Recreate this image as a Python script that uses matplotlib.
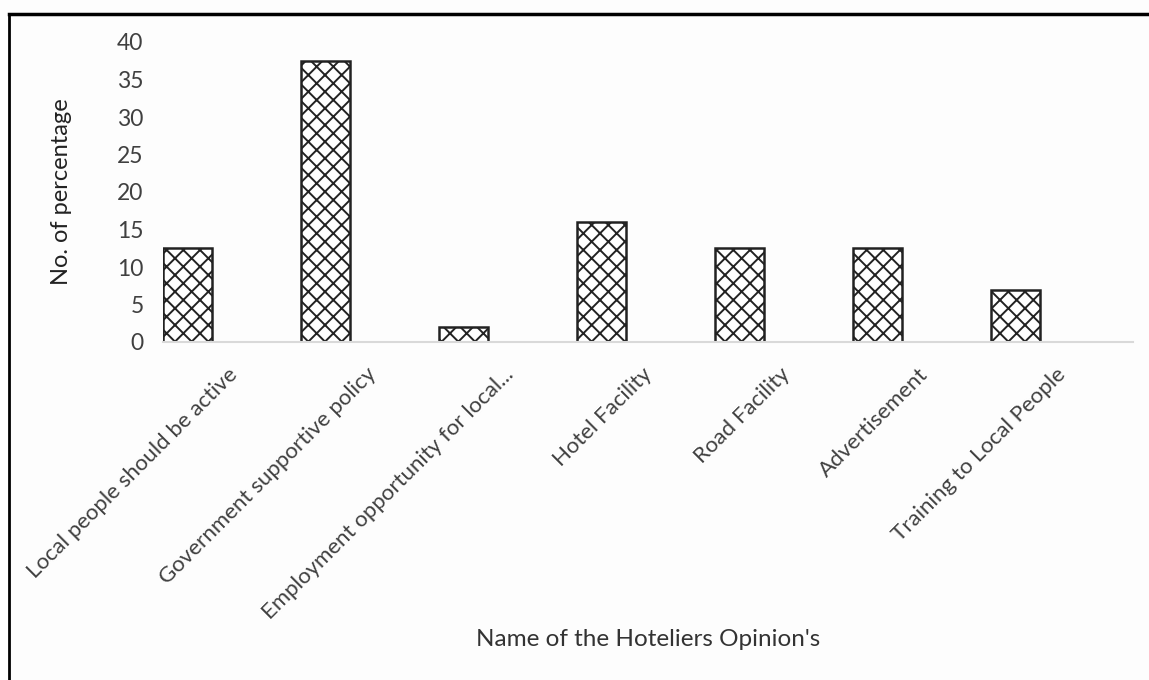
import matplotlib
matplotlib.use("Agg")
import matplotlib.pyplot as plt
from matplotlib.lines import Line2D
from matplotlib.transforms import ScaledTranslation

categories = [
    "Local people should be active",
    "Government supportive policy",
    "Employment opportunity for local...",
    "Hotel Facility",
    "Road Facility",
    "Advertisement",
    "Training to Local People",
]
values = [12.5, 37.5, 2, 16, 12.5, 12.5, 7]
y_ticks = [0, 5, 10, 15, 20, 25, 30, 35, 40]

W, H = 1149, 680
plt.rcParams["font.family"] = ["Lato", "DejaVu Sans"]
plt.rcParams["hatch.linewidth"] = 1.4
plt.rcParams["hatch.color"] = "#222222"

fig = plt.figure(figsize=(W / 100, H / 100), dpi=100)
fig.patch.set_facecolor("#fdfdfd")

# plot area in pixel coordinates
left, right, top, bottom = 163, 1133, 42, 342
ax = fig.add_axes([left / W, 1 - bottom / H, (right - left) / W, (bottom - top) / H])
ax.set_facecolor("none")

bar_w = 0.355
x = list(range(len(categories)))
ax.bar(x, values, width=bar_w, color="white", edgecolor="#222222",
       linewidth=1.8, hatch="xx")

ax.set_xlim(-bar_w / 2, 6.85)
ax.set_ylim(0, 40)
ax.set_yticks(y_ticks)
ax.set_yticklabels([str(v) for v in y_ticks], fontsize=16.5, color="#404040")
ax.set_xticks(x)
ax.set_xticklabels(categories, rotation=45, ha="right", rotation_mode="anchor",
                   fontsize=16, color="#404040")
ax.tick_params(axis="both", length=0)
ax.tick_params(axis="y", pad=14)
ax.tick_params(axis="x", pad=8)

# slant labels so their upper end sits to the right of each bar
shift = ScaledTranslation(0.40, -0.11, fig.dpi_scale_trans)
for lbl in ax.get_xticklabels():
    lbl.set_transform(lbl.get_transform() + shift)

for side in ["top", "right", "left"]:
    ax.spines[side].set_visible(False)
ax.spines["bottom"].set_color("#d9d9d9")
ax.spines["bottom"].set_linewidth(1.5)

fig.text(62 / W, 1 - 192 / H, "No. of percentage", rotation=90, ha="center",
         va="center", fontsize=17, color="#222222")
fig.text(648 / W, 1 - 640 / H, "Name of the Hoteliers Opinion's", ha="center",
         va="center", fontsize=17.5, color="#333333")

# outer frame (left and top edges)
fig.add_artist(Line2D([9 / W, 9 / W], [0, 1 - 14 / H], transform=fig.transFigure,
                      color="black", linewidth=2))
fig.add_artist(Line2D([9 / W, 1], [1 - 14 / H, 1 - 14 / H], transform=fig.transFigure,
                      color="black", linewidth=2.5))

fig.savefig("out.png", dpi=100, facecolor=fig.get_facecolor())
